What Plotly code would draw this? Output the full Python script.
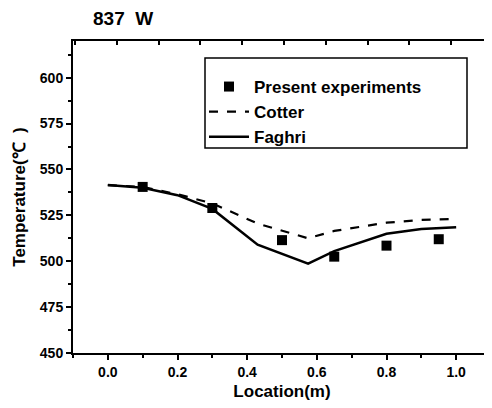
import plotly.graph_objects as go

exp_x = [0.1, 0.3, 0.5, 0.65, 0.8, 0.95]
exp_y = [540.5, 529, 511.5, 502.5, 508.5, 512]

cotter_x = [0.0, 0.1, 0.2, 0.3, 0.43, 0.5, 0.575, 0.65, 0.8, 0.9, 1.0]
cotter_y = [541.5, 540.5, 536.5, 531.5, 520.5, 516.5, 512.5, 516.5, 521, 522.5, 523]

faghri_x = [0.0, 0.1, 0.2, 0.3, 0.43, 0.575, 0.65, 0.8, 0.9, 1.0]
faghri_y = [541.5, 540, 536, 528.5, 509, 498.7, 505.5, 515, 517.5, 518.5]

x_ticks = [0.0, 0.2, 0.4, 0.6, 0.8, 1.0]
x_tick_labels = ["0.0", "0.2", "0.4", "0.6", "0.8", "1.0"]
y_ticks = [450, 475, 500, 525, 550, 575, 600]

FONT = "Liberation Sans"

# page body has an 8px default margin; figure sized so it fits the 492x408 window
OFF = 8
W, H = 492 - OFF, 408 - OFF
PL, PT, PR, PB = 73, 41, 491, 353          # plot area in page pixels
L, T, R, B = PL - OFF, PT - OFF, 492 - PR, 408 - PB
PW, PH = PR - PL, PB - PT


def px(xp):
    return (xp - PL) / PW


def py(yp):
    return (PB - yp) / PH


fig = go.Figure()
fig.add_trace(go.Scatter(x=exp_x, y=exp_y, mode="markers", name="<b>Present experiments</b>",
                         marker=dict(symbol="square", size=10, color="black")))
fig.add_trace(go.Scatter(x=cotter_x, y=cotter_y, mode="lines", name="<b>Cotter</b>",
                         line=dict(color="black", width=2.2, dash="dash")))
fig.add_trace(go.Scatter(x=faghri_x, y=faghri_y, mode="lines", name="<b>Faghri</b>",
                         line=dict(color="black", width=2.5)))
# invisible trace carrying the inner ticks on top/right
fig.add_trace(go.Scatter(x=[None], y=[None], xaxis="x2", yaxis="y2", showlegend=False))

fig.update_layout(
    width=W, height=H,
    margin=dict(l=L, r=R, t=T, b=B, autoexpand=False),
    paper_bgcolor="white", plot_bgcolor="white",
    font=dict(family=FONT, size=14, color="black"),
    title=dict(text="<b>837  W</b>", x=(93 - OFF) / W, xanchor="left", xref="container",
               y=1 - (18 - OFF) / H, yanchor="middle", yref="container",
               font=dict(family=FONT, size=19, color="black")),
    xaxis=dict(range=[-0.1, 1.1], tickvals=x_ticks, ticktext=["<b>%s</b>" % t for t in x_tick_labels],
               ticks="outside", ticklen=5, tickwidth=1.5, tickcolor="black",
               showline=True, linecolor="black", linewidth=2, showgrid=False, zeroline=False,
               minor=dict(dtick=0.1, tick0=0, ticks="outside", ticklen=3, tickcolor="black"),
               title=dict(text="<b>Location(m)</b>", standoff=6, font=dict(size=17)),
               tickfont=dict(size=14)),
    yaxis=dict(range=[450, 620], tickvals=y_ticks, ticktext=["<b>%d</b>" % v for v in y_ticks],
               ticks="outside", ticklen=5, tickwidth=1.5, tickcolor="black",
               showline=True, linecolor="black", linewidth=2, showgrid=False, zeroline=False,
               minor=dict(dtick=12.5, tick0=450, ticks="outside", ticklen=3, tickcolor="black"),
               title=dict(text="<b>Temperature(℃  )</b>", standoff=10, font=dict(size=17)),
               tickfont=dict(size=14)),
    xaxis2=dict(overlaying="x", side="top", range=[-0.1, 1.1], dtick=0.12, tick0=0.026,
                ticks="inside", ticklen=4, tickwidth=1.5, tickcolor="black", showticklabels=False,
                showline=True, linecolor="black", linewidth=1.5, showgrid=False, zeroline=False),
    yaxis2=dict(overlaying="y", side="right", range=[450, 620], dtick=17, tick0=603,
                ticks="inside", ticklen=4, tickwidth=1.5, tickcolor="black", showticklabels=False,
                showline=False, showgrid=False, zeroline=False),
    legend=dict(x=px(204), y=py(69), xanchor="left", yanchor="top",
                borderwidth=0, bgcolor="rgba(0,0,0,0)",
                font=dict(family=FONT, size=17, color="black"),
                itemwidth=40, tracegroupgap=0),
    shapes=[dict(type="rect", xref="paper", yref="paper",
                 x0=px(205), x1=px(467), y0=py(148), y1=py(58),
                 line=dict(color="black", width=1.5), fillcolor="white", layer="below")],
)
fig.write_html("out.html")
